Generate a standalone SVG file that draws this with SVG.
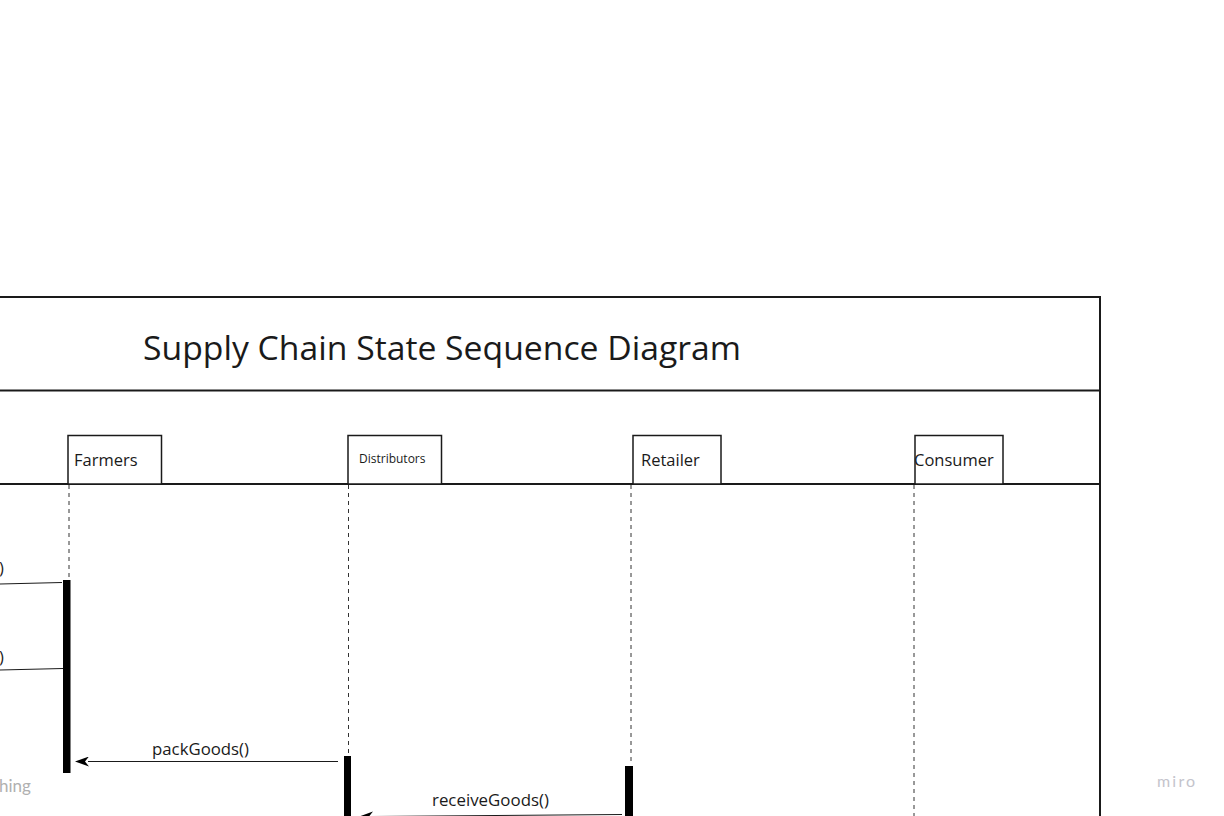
<svg xmlns="http://www.w3.org/2000/svg" width="1224" height="816" viewBox="0 0 1224 816">
<style>
.t{font-family:"Open Sans","Noto Sans","DejaVu Sans",sans-serif;fill:#1a1a1a}
.frame{fill:none;stroke:#1a1a1a;stroke-width:2}
.actor{fill:#fff;stroke:#1a1a1a;stroke-width:1.5}
.life{stroke:#333;stroke-width:1;stroke-dasharray:4 4;fill:none}
.act{fill:#000}
.msg{stroke:#1a1a1a;stroke-width:1;fill:none}
</style>
<defs>
<marker id="ah" viewBox="0 0 14 10" refX="1" refY="5" markerWidth="14" markerHeight="10" markerUnits="userSpaceOnUse" orient="auto-start-reverse">
<path d="M14,5 L0,0 L4,5 L0,10 Z" fill="#000"/>
</marker>
</defs>
<rect width="1224" height="816" fill="#fff"/>
<g id="frame">
<path class="frame" d="M0,297 H1100 V816"/>
<line class="frame" x1="0" y1="390.5" x2="1100" y2="390.5"/>
<line class="frame" x1="0" y1="484" x2="1100" y2="484"/>
<text class="t" x="143" y="360" font-size="33" textLength="598" lengthAdjust="spacingAndGlyphs">Supply Chain State Sequence Diagram</text>
</g>
<g id="lifelines">
<line class="life" x1="69" y1="485" x2="69" y2="580"/>
<line class="life" x1="348.5" y1="485" x2="348.5" y2="755"/>
<line class="life" x1="631" y1="485" x2="631" y2="765"/>
<line class="life" x1="914" y1="485" x2="914" y2="816"/>
</g>
<g id="farmers">
<rect class="actor" x="68" y="435.5" width="93.5" height="48.5"/>
<text class="t" x="74" y="466" font-size="16.5">Farmers</text>
<rect class="act" x="63" y="580" width="7.5" height="193"/>
</g>
<g id="distributors">
<rect class="actor" x="348" y="435.5" width="93.5" height="48.5"/>
<text class="t" x="359" y="463" font-size="12">Distributors</text>
<rect class="act" x="344" y="756" width="7" height="60"/>
</g>
<g id="retailer">
<rect class="actor" x="633" y="435.5" width="88" height="48.5"/>
<text class="t" x="641" y="466" font-size="16.5">Retailer</text>
<rect class="act" x="625" y="766" width="8" height="50"/>
</g>
<g id="consumer">
<rect class="actor" x="915" y="435.5" width="88" height="48.5"/>
<text class="t" x="914" y="466" font-size="16.5">Consumer</text>
</g>
<g id="connectors">
<line class="msg" x1="0" y1="584" x2="62" y2="582.5"/>
<text class="t" x="-1" y="574" font-size="16.5">)</text>
<line class="msg" x1="0" y1="670" x2="63" y2="668.5"/>
<text class="t" x="-1" y="663" font-size="16.5">)</text>
<line class="msg" x1="338" y1="761.5" x2="88" y2="761.5" marker-end="url(#ah)"/>
<text class="t" x="152" y="755" font-size="16.5" textLength="97" lengthAdjust="spacingAndGlyphs">packGoods()</text>
<line class="msg" x1="622" y1="814.5" x2="372" y2="816.5" marker-end="url(#ah)"/>
<text class="t" x="432" y="806" font-size="16.5" textLength="117" lengthAdjust="spacingAndGlyphs">receiveGoods()</text>
</g>
<g id="overlay">
<text x="-1" y="792" font-family="Lato,'Open Sans',sans-serif" font-size="17" fill="#b0b0b0">hing</text>
<text x="1157" y="787" font-family="Lato,'Open Sans',sans-serif" font-size="16" letter-spacing="2.2" fill="#c4c4cc">miro</text>
</g>
</svg>
